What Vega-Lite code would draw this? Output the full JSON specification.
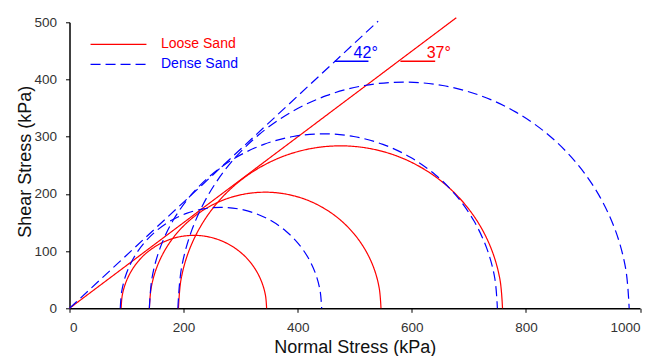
{
  "$schema": "https://vega.github.io/schema/vega-lite/v6.json",
  "width": 570.5,
  "height": 286,
  "autosize": {"type": "none"},
  "padding": {"left": 69.5, "top": 22.3, "right": 26, "bottom": 47.7},
  "background": "white",
  "config": {
    "view": {"stroke": null},
    "font": "Liberation Sans",
    "axis": {
      "grid": false,
      "domainColor": "#000000",
      "domainWidth": 1.5,
      "tickColor": "#000000",
      "tickSize": 4,
      "labelFont": "Liberation Sans",
      "labelFontSize": 13.5,
      "labelColor": "#333333",
      "titleFont": "Liberation Sans",
      "titleFontSize": 18,
      "titleFontWeight": "normal",
      "titleColor": "#111111"
    }
  },
  "datasets": {
    "curves": [
      {"s":"Loose Sand","c":"R1","i":0,"x":90.5,"y":0},{"s":"Loose Sand","c":"R1","i":1,"x":92.4,"y":22.1},{"s":"Loose Sand","c":"R1","i":2,"x":98.2,"y":43.6},{"s":"Loose Sand","c":"R1","i":3,"x":107.6,"y":63.8},{"s":"Loose Sand","c":"R1","i":4,"x":120.3,"y":82.0},{"s":"Loose Sand","c":"R1","i":5,"x":136.0,"y":97.7},{"s":"Loose Sand","c":"R1","i":6,"x":154.3,"y":110.4},{"s":"Loose Sand","c":"R1","i":7,"x":174.4,"y":119.8},{"s":"Loose Sand","c":"R1","i":8,"x":195.9,"y":125.6},{"s":"Loose Sand","c":"R1","i":9,"x":218,"y":127.5},{"s":"Loose Sand","c":"R1","i":10,"x":240.1,"y":125.6},{"s":"Loose Sand","c":"R1","i":11,"x":261.6,"y":119.8},{"s":"Loose Sand","c":"R1","i":12,"x":281.8,"y":110.4},{"s":"Loose Sand","c":"R1","i":13,"x":300.0,"y":97.7},{"s":"Loose Sand","c":"R1","i":14,"x":315.7,"y":82.0},{"s":"Loose Sand","c":"R1","i":15,"x":328.4,"y":63.8},{"s":"Loose Sand","c":"R1","i":16,"x":337.8,"y":43.6},{"s":"Loose Sand","c":"R1","i":17,"x":343.6,"y":22.1},{"s":"Loose Sand","c":"R1","i":18,"x":345.5,"y":0},
      {"s":"Loose Sand","c":"R2","i":0,"x":140,"y":0},{"s":"Loose Sand","c":"R2","i":1,"x":143.1,"y":35.2},{"s":"Loose Sand","c":"R2","i":2,"x":152.2,"y":69.4},{"s":"Loose Sand","c":"R2","i":3,"x":167.2,"y":101.5},{"s":"Loose Sand","c":"R2","i":4,"x":187.5,"y":130.5},{"s":"Loose Sand","c":"R2","i":5,"x":212.5,"y":155.5},{"s":"Loose Sand","c":"R2","i":6,"x":241.5,"y":175.8},{"s":"Loose Sand","c":"R2","i":7,"x":273.6,"y":190.8},{"s":"Loose Sand","c":"R2","i":8,"x":307.8,"y":199.9},{"s":"Loose Sand","c":"R2","i":9,"x":343,"y":203},{"s":"Loose Sand","c":"R2","i":10,"x":378.2,"y":199.9},{"s":"Loose Sand","c":"R2","i":11,"x":412.4,"y":190.8},{"s":"Loose Sand","c":"R2","i":12,"x":444.5,"y":175.8},{"s":"Loose Sand","c":"R2","i":13,"x":473.5,"y":155.5},{"s":"Loose Sand","c":"R2","i":14,"x":498.5,"y":130.5},{"s":"Loose Sand","c":"R2","i":15,"x":518.8,"y":101.5},{"s":"Loose Sand","c":"R2","i":16,"x":533.8,"y":69.4},{"s":"Loose Sand","c":"R2","i":17,"x":542.9,"y":35.2},{"s":"Loose Sand","c":"R2","i":18,"x":546,"y":0},
      {"s":"Loose Sand","c":"R3","i":0,"x":191,"y":0},{"s":"Loose Sand","c":"R3","i":1,"x":195.3,"y":49.3},{"s":"Loose Sand","c":"R3","i":2,"x":208.1,"y":97.1},{"s":"Loose Sand","c":"R3","i":3,"x":229.1,"y":142},{"s":"Loose Sand","c":"R3","i":4,"x":257.5,"y":182.6},{"s":"Loose Sand","c":"R3","i":5,"x":292.4,"y":217.5},{"s":"Loose Sand","c":"R3","i":6,"x":333,"y":245.9},{"s":"Loose Sand","c":"R3","i":7,"x":377.9,"y":266.9},{"s":"Loose Sand","c":"R3","i":8,"x":425.7,"y":279.7},{"s":"Loose Sand","c":"R3","i":9,"x":475,"y":284},{"s":"Loose Sand","c":"R3","i":10,"x":524.3,"y":279.7},{"s":"Loose Sand","c":"R3","i":11,"x":572.1,"y":266.9},{"s":"Loose Sand","c":"R3","i":12,"x":617,"y":245.9},{"s":"Loose Sand","c":"R3","i":13,"x":657.6,"y":217.5},{"s":"Loose Sand","c":"R3","i":14,"x":692.5,"y":182.6},{"s":"Loose Sand","c":"R3","i":15,"x":721,"y":142},{"s":"Loose Sand","c":"R3","i":16,"x":741.9,"y":97.1},{"s":"Loose Sand","c":"R3","i":17,"x":754.7,"y":49.3},{"s":"Loose Sand","c":"R3","i":18,"x":759,"y":0},
      {"s":"Loose Sand","c":"RL","i":0,"x":0,"y":0},{"s":"Loose Sand","c":"RL","i":1,"x":678,"y":508},
      {"s":"Dense Sand","c":"B1","i":0,"x":89,"y":0},{"s":"Dense Sand","c":"B1","i":1,"x":91.7,"y":30.6},{"s":"Dense Sand","c":"B1","i":2,"x":99.6,"y":60.4},{"s":"Dense Sand","c":"B1","i":3,"x":112.6,"y":88.3},{"s":"Dense Sand","c":"B1","i":4,"x":130.3,"y":113.5},{"s":"Dense Sand","c":"B1","i":5,"x":152,"y":135.2},{"s":"Dense Sand","c":"B1","i":6,"x":177.2,"y":152.9},{"s":"Dense Sand","c":"B1","i":7,"x":205.1,"y":165.9},{"s":"Dense Sand","c":"B1","i":8,"x":234.9,"y":173.8},{"s":"Dense Sand","c":"B1","i":9,"x":265.5,"y":176.5},{"s":"Dense Sand","c":"B1","i":10,"x":296.1,"y":173.8},{"s":"Dense Sand","c":"B1","i":11,"x":325.9,"y":165.9},{"s":"Dense Sand","c":"B1","i":12,"x":353.8,"y":152.9},{"s":"Dense Sand","c":"B1","i":13,"x":379,"y":135.2},{"s":"Dense Sand","c":"B1","i":14,"x":400.7,"y":113.5},{"s":"Dense Sand","c":"B1","i":15,"x":418.4,"y":88.3},{"s":"Dense Sand","c":"B1","i":16,"x":431.4,"y":60.4},{"s":"Dense Sand","c":"B1","i":17,"x":439.3,"y":30.6},{"s":"Dense Sand","c":"B1","i":18,"x":442,"y":0},
      {"s":"Dense Sand","c":"B2","i":0,"x":140,"y":0},{"s":"Dense Sand","c":"B2","i":1,"x":144.6,"y":53},{"s":"Dense Sand","c":"B2","i":2,"x":158.4,"y":104.3},{"s":"Dense Sand","c":"B2","i":3,"x":180.9,"y":152.5},{"s":"Dense Sand","c":"B2","i":4,"x":211.4,"y":196.1},{"s":"Dense Sand","c":"B2","i":5,"x":249,"y":233.6},{"s":"Dense Sand","c":"B2","i":6,"x":292.5,"y":264.1},{"s":"Dense Sand","c":"B2","i":7,"x":340.7,"y":286.6},{"s":"Dense Sand","c":"B2","i":8,"x":392,"y":300.4},{"s":"Dense Sand","c":"B2","i":9,"x":445,"y":305},{"s":"Dense Sand","c":"B2","i":10,"x":498,"y":300.4},{"s":"Dense Sand","c":"B2","i":11,"x":549.3,"y":286.6},{"s":"Dense Sand","c":"B2","i":12,"x":597.5,"y":264.1},{"s":"Dense Sand","c":"B2","i":13,"x":641.1,"y":233.6},{"s":"Dense Sand","c":"B2","i":14,"x":678.6,"y":196.1},{"s":"Dense Sand","c":"B2","i":15,"x":709.1,"y":152.5},{"s":"Dense Sand","c":"B2","i":16,"x":731.6,"y":104.3},{"s":"Dense Sand","c":"B2","i":17,"x":745.4,"y":53},{"s":"Dense Sand","c":"B2","i":18,"x":750,"y":0},
      {"s":"Dense Sand","c":"B3","i":0,"x":190,"y":0},{"s":"Dense Sand","c":"B3","i":1,"x":196,"y":68.7},{"s":"Dense Sand","c":"B3","i":2,"x":213.9,"y":135.3},{"s":"Dense Sand","c":"B3","i":3,"x":243,"y":197.8},{"s":"Dense Sand","c":"B3","i":4,"x":282.5,"y":254.2},{"s":"Dense Sand","c":"B3","i":5,"x":331.3,"y":303},{"s":"Dense Sand","c":"B3","i":6,"x":387.8,"y":342.5},{"s":"Dense Sand","c":"B3","i":7,"x":450.2,"y":371.7},{"s":"Dense Sand","c":"B3","i":8,"x":516.8,"y":389.5},{"s":"Dense Sand","c":"B3","i":9,"x":585.5,"y":395.5},{"s":"Dense Sand","c":"B3","i":10,"x":654.2,"y":389.5},{"s":"Dense Sand","c":"B3","i":11,"x":720.8,"y":371.7},{"s":"Dense Sand","c":"B3","i":12,"x":783.3,"y":342.5},{"s":"Dense Sand","c":"B3","i":13,"x":839.7,"y":303},{"s":"Dense Sand","c":"B3","i":14,"x":888.5,"y":254.2},{"s":"Dense Sand","c":"B3","i":15,"x":928,"y":197.8},{"s":"Dense Sand","c":"B3","i":16,"x":957.2,"y":135.3},{"s":"Dense Sand","c":"B3","i":17,"x":975,"y":68.7},{"s":"Dense Sand","c":"B3","i":18,"x":981,"y":0},
      {"s":"Dense Sand","c":"BL","i":0,"x":0,"y":0},{"s":"Dense Sand","c":"BL","i":1,"x":541,"y":502}
    ],
    "angles": [
      {"s":"Dense Sand","t":"42°","x":465,"x2":524,"y":432,"tx":498,"ty":437},
      {"s":"Loose Sand","t":"37°","x":580,"x2":641,"y":432,"tx":626,"ty":437}
    ]
  },
  "layer": [
    {
      "data": {"name": "curves"},
      "mark": {"type": "line", "strokeWidth": 1.2, "interpolate": "catmull-rom", "clip": false},
      "encoding": {
        "x": {"field": "x", "type": "quantitative", "scale": {"domain": [0, 1000], "nice": false},
              "axis": {"values": [0, 200, 400, 600, 800, 1000], "format": "d", "title": "Normal Stress (kPa)", "labelPadding": 8, "titleBaseline": "alphabetic", "titleY": 44}},
        "y": {"field": "y", "type": "quantitative", "scale": {"domain": [0, 500], "nice": false},
              "axis": {"values": [0, 100, 200, 300, 400, 500], "format": "d", "title": "Shear Stress (kPa)", "labelPadding": 9, "titleX": -44, "titleY": 139, "titleBaseline": "middle"}},
        "color": {"field": "s", "type": "nominal",
                  "scale": {"domain": ["Loose Sand", "Dense Sand"], "range": ["#ff0000", "#0000ff"]},
                  "legend": {"orient": "none", "legendX": 42, "legendY": 15, "title": null, "symbolType": "M-5,0H5", "symbolSize": 125, "symbolStrokeWidth": 1.2, "labelFontSize": 14, "labelFont": "Liberation Sans", "labelOffset": 35.5, "rowPadding": 6,
                             "encode": {"labels": {"update": {"fill": {"scale": "color", "field": "value"}}}}}},
        "strokeDash": {"field": "s", "type": "nominal",
                       "scale": {"domain": ["Loose Sand", "Dense Sand"], "range": [[1, 0], [10, 5]]},
                       "legend": {"orient": "none", "legendX": 42, "legendY": 15, "title": null, "symbolType": "M-5,0H5", "symbolSize": 125, "symbolStrokeWidth": 1.2, "labelFontSize": 14, "labelFont": "Liberation Sans", "labelOffset": 35.5, "rowPadding": 6,
                             "encode": {"labels": {"update": {"fill": {"scale": "color", "field": "value"}}}}}},
        "detail": {"field": "c"},
        "order": {"field": "i", "type": "quantitative"}
      }
    },
    {
      "data": {"name": "angles"},
      "mark": {"type": "rule", "strokeWidth": 1.5},
      "encoding": {
        "x": {"field": "x", "type": "quantitative"},
        "x2": {"field": "x2"},
        "y": {"field": "y", "type": "quantitative"},
        "color": {"condition": {"test": "datum.s === 'Loose Sand'", "value": "#ff0000"}, "value": "#0000ff"}
      }
    },
    {
      "data": {"name": "angles"},
      "mark": {"type": "text", "align": "left", "baseline": "alphabetic", "fontSize": 16, "font": "Liberation Sans"},
      "encoding": {
        "x": {"field": "tx", "type": "quantitative"},
        "y": {"field": "ty", "type": "quantitative"},
        "text": {"field": "t"},
        "color": {"condition": {"test": "datum.s === 'Loose Sand'", "value": "#ff0000"}, "value": "#0000ff"}
      }
    }
  ]
}
